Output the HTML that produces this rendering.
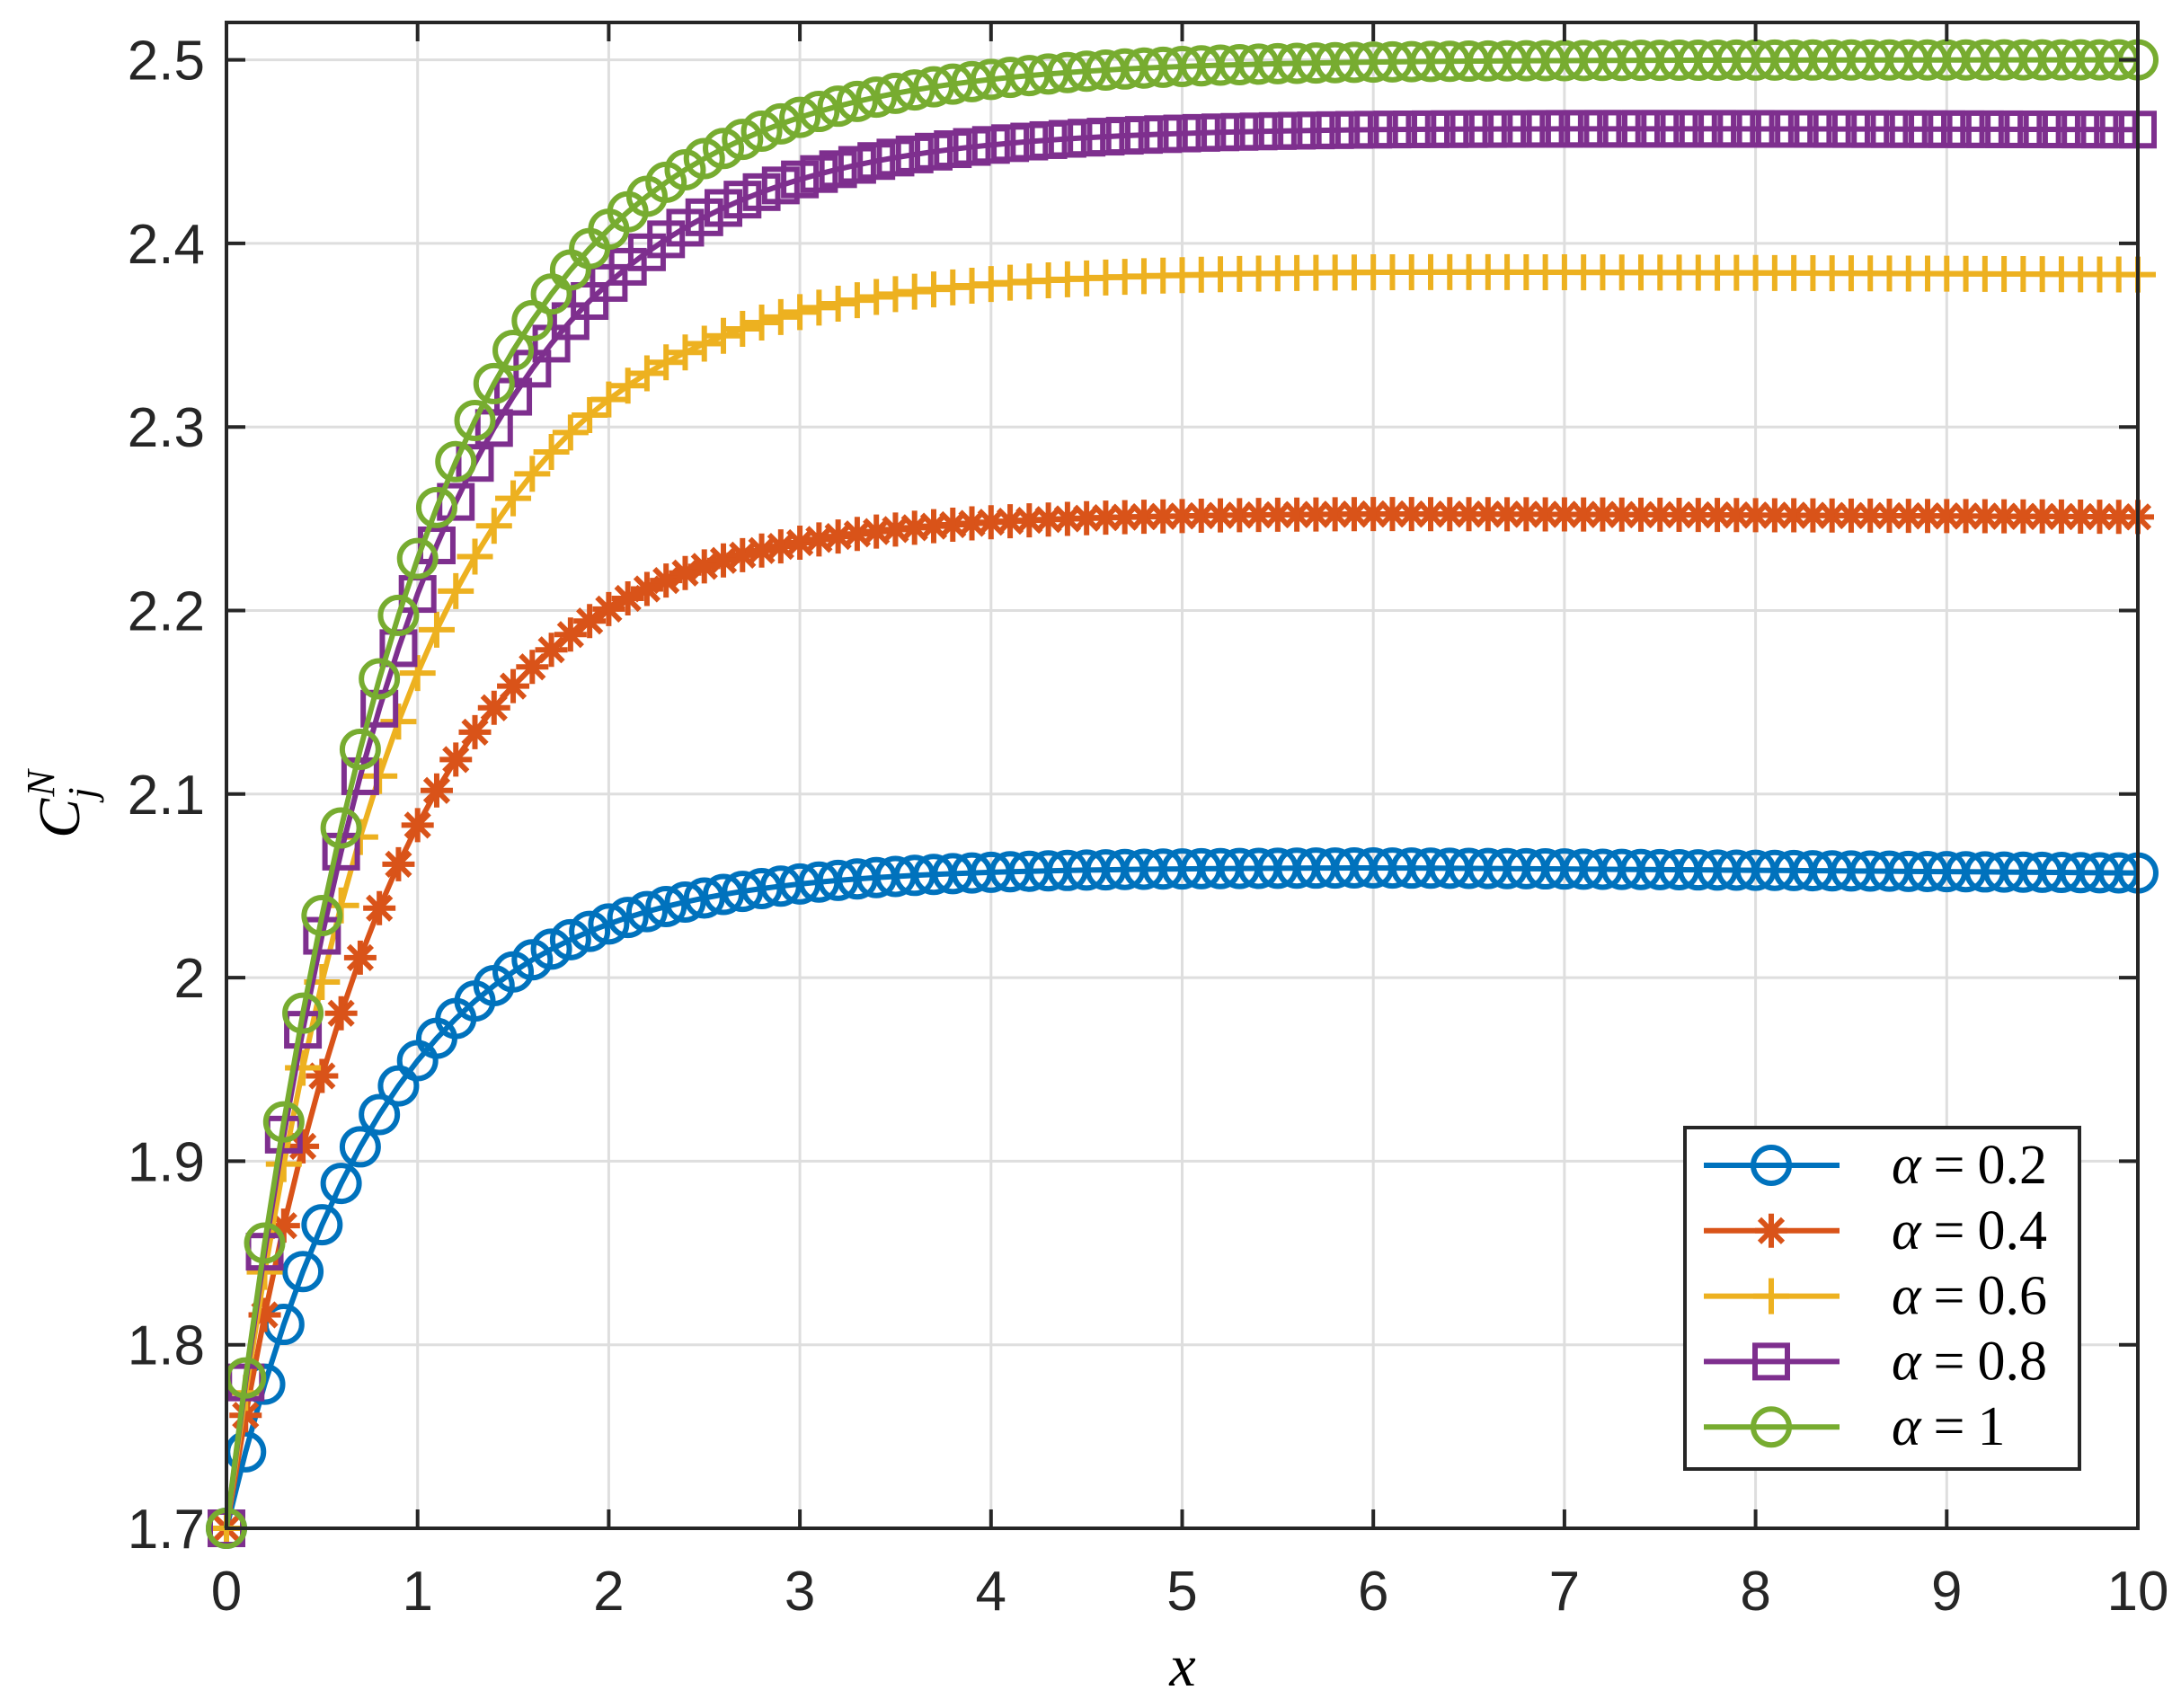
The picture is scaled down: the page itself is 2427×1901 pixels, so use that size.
<!DOCTYPE html>
<html><head><meta charset="utf-8"><style>html,body{margin:0;padding:0;background:#fff}svg{display:block}</style></head>
<body>
<svg id="s" width="2427" height="1901" viewBox="0 0 2427 1901" xmlns="http://www.w3.org/2000/svg" font-family="Liberation Sans, sans-serif">
<rect width="2427" height="1901" fill="#fff"/>
<g id="grid" stroke="#dedede" stroke-width="3"></g>
<g id="data"></g>
<rect x="252" y="25" width="2127" height="1676" fill="none" stroke="#262626" stroke-width="4"/>
<g id="ticks" stroke="#262626" stroke-width="4"></g>
<g id="labels" fill="#262626" font-size="62"></g>
<text x="1316" y="1876" font-family="Liberation Serif, serif" font-style="italic" font-size="66" text-anchor="middle">x</text>
<g transform="translate(88,895) rotate(-90)">
<text x="0" y="0" font-family="Liberation Serif, serif" font-style="italic" font-size="66" text-anchor="middle">C<tspan font-size="44" dy="18">j</tspan><tspan font-size="44" dx="-10" dy="-46">N</tspan></text>
</g>
<g id="legend">
<rect x="1875" y="1255" width="439" height="380" fill="#fff" stroke="#262626" stroke-width="4"/>
</g>
</svg>
<script>
const NS="http://www.w3.org/2000/svg";
const L=252,R=2379,T=25,B=1701;
const X=x=>L+(R-L)*x/10, Y=y=>B-(y-1.7)*2043;
function el(p,t,a){const e=document.createElementNS(NS,t);for(const k in a)e.setAttribute(k,a[k]);p.appendChild(e);return e;}
const g=document.getElementById('grid'),tk=document.getElementById('ticks'),lb=document.getElementById('labels');
for(let i=1;i<10;i++){el(g,'line',{x1:X(i),x2:X(i),y1:T,y2:B});}
for(let i=1;i<=8;i++){const y=Y(1.7+i*0.1);el(g,'line',{x1:L,x2:R,y1:y,y2:y});}
for(let i=0;i<=10;i++){el(tk,'line',{x1:X(i),x2:X(i),y1:B,y2:B-21});el(tk,'line',{x1:X(i),x2:X(i),y1:T,y2:T+21});
 const t=el(lb,'text',{x:X(i),y:1792,'text-anchor':'middle'});t.textContent=i;}
const yl=['1.7','1.8','1.9','2','2.1','2.2','2.3','2.4','2.5'];
for(let i=0;i<=8;i++){const y=Y(1.7+i*0.1);el(tk,'line',{x1:L,x2:L+21,y1:y,y2:y});el(tk,'line',{x1:R,x2:R-21,y1:y,y2:y});
 const t=el(lb,'text',{x:228,y:y+22,'text-anchor':'end'});t.textContent=yl[i];}
const S=[{c:'#0072BD',A:0.36,k:1.23,m:'o',d:0.003},{c:'#D95319',A:0.553,k:1.18,m:'*',d:0.002},{c:'#EDB120',A:0.685,k:1.14,m:'+',d:0.002},{c:'#7E2F8E',A:0.763,k:1.10,m:'s',d:0.001},{c:'#77AC30',A:0.8,k:1.08,m:'o',d:0}];
const dg=document.getElementById('data');
function marker(p,m,x,y,c){
 if(m=='o')el(p,'circle',{cx:x,cy:y,r:20,fill:'none',stroke:c,'stroke-width':6});
 else if(m=='s')el(p,'rect',{x:x-18,y:y-18,width:36,height:36,fill:'none',stroke:c,'stroke-width':6});
 else if(m=='+'){el(p,'path',{d:`M${x-20} ${y}H${x+20}M${x} ${y-20}V${y+20}`,stroke:c,'stroke-width':6});}
 else {el(p,'path',{d:`M${x-18} ${y}H${x+18}M${x} ${y-19}V${y+19}M${x-13} ${y-13}L${x+13} ${y+13}M${x-13} ${y+13}L${x+13} ${y-13}`,stroke:c,'stroke-width':6});}
}
S.forEach(s=>{let pts=[];for(let i=0;i<=100;i++){const x=i/10;let y=1.7+s.A*(1-Math.exp(-s.k*x))-s.d*Math.max(0,x-6)/4;pts.push([X(x),Y(y)]);}
 const gg=el(dg,'g',{});
 el(gg,'polyline',{points:pts.map(p=>p.join(',')).join(' '),fill:'none',stroke:s.c,'stroke-width':6});
 pts.forEach(p=>marker(gg,s.m,p[0],p[1],s.c));});
const lg=document.getElementById('legend');
const txt=['0.2','0.4','0.6','0.8','1'];
S.forEach((s,i)=>{const y=1297+i*72.8;el(lg,'line',{x1:1896,x2:2047,y1:y,y2:y,stroke:s.c,'stroke-width':6});marker(lg,s.m,1971,y,s.c);
 const t=el(lg,'text',{x:2105,y:y+20,'font-family':'Liberation Serif, serif','font-size':62,fill:'#000','xml:space':'preserve'});
 t.innerHTML='<tspan font-style="italic">α</tspan><tspan dx="14">=</tspan><tspan dx="14">'+txt[i]+'</tspan>';});
</script>
</body></html>
